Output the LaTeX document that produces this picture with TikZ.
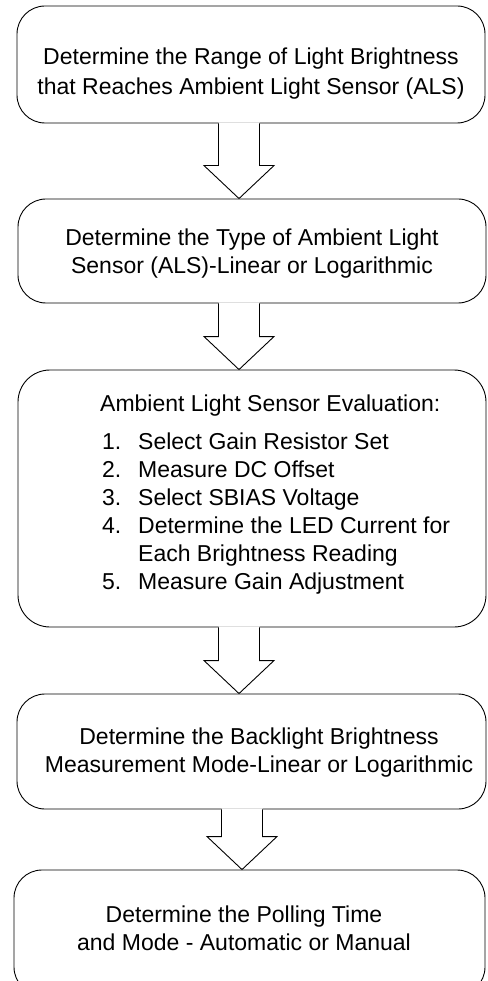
\documentclass[tikz,border=0pt]{standalone}
\usepackage{fontspec}
\setmainfont{Liberation Sans}
\usetikzlibrary{calc}

\newcommand{\blockarrow}[3]{%
  \fill[white] let \p1=(#2.south), \p2=(#3.north) in
    (#1pt-20.5pt,\y1+1pt) -- (#1pt-20.5pt,\y2+33pt) -- (#1pt-35pt,\y2+33pt) -- (#1pt,\y2)
    -- (#1pt+35pt,\y2+33pt) -- (#1pt+20.5pt,\y2+33pt) -- (#1pt+20.5pt,\y1+1pt) -- cycle;
  \draw[ln] let \p1=(#2.south), \p2=(#3.north) in
    (#1pt-20.5pt,\y1) -- (#1pt-20.5pt,\y2+33pt) -- (#1pt-35pt,\y2+33pt) -- (#1pt,\y2)
    -- (#1pt+35pt,\y2+33pt) -- (#1pt+20.5pt,\y2+33pt) -- (#1pt+20.5pt,\y1);
}

\begin{document}
\begin{tikzpicture}[
    x=1pt, y=-1pt,
    every node/.style={font=\fontsize{23}{28}\selectfont},
    ln/.style={line width=0.9pt, line join=miter},
    box/.style={draw, ln, rounded corners=28pt, inner sep=0pt},
    txt/.style={align=center, inner sep=0pt},
    lst/.style={align=left, inner sep=0pt, anchor=west},
  ]
  \useasboundingbox (0,0) rectangle (487,981);
  \node[box, minimum width=468pt, minimum height=117pt] (range) at (251,64.5) {};
  \node[box, minimum width=468pt, minimum height=104pt] (type) at (252,251) {};
  \node[box, minimum width=468pt, minimum height=257pt, rounded corners=32pt] (eval) at (252,498.5) {};
  \node[box, minimum width=469pt, minimum height=115pt] (mode) at (251.5,751.5) {};
  \node[box, minimum width=471pt, minimum height=125pt] (poll) at (249.5,932.5) {};
  \blockarrow{239}{range}{type}
  \blockarrow{239}{type}{eval}
  \blockarrow{239}{eval}{mode}
  \blockarrow{242}{mode}{poll}
  \node[txt, font=\fontsize{23}{30}\selectfont] (rangetxt) at (251,74) {Determine the Range of Light Brightness\\that Reaches Ambient Light Sensor (ALS)};
  \node[txt] (typetxt) at (252,254) {Determine the Type of Ambient Light\\Sensor (ALS)-Linear or Logarithmic};
  \node[lst] (evalhead) at (100,406) {Ambient Light Sensor Evaluation:};
  \node[lst] (evallist) at (102,514) {%
    \makebox[36pt][l]{1.}Select Gain Resistor Set\\
    \makebox[36pt][l]{2.}Measure DC Offset\\
    \makebox[36pt][l]{3.}Select SBIAS Voltage\\
    \makebox[36pt][l]{4.}Determine the LED Current for\\
    \hspace*{36pt}Each Brightness Reading\\
    \makebox[36pt][l]{5.}Measure Gain Adjustment};
  \node[txt] (modetxt) at (259,753) {Determine the Backlight Brightness\\Measurement Mode-Linear or Logarithmic};
  \node[txt] (polltxt) at (244,928.5) {Determine the Polling Time\\and Mode - Automatic or Manual};
\end{tikzpicture}
\end{document}
